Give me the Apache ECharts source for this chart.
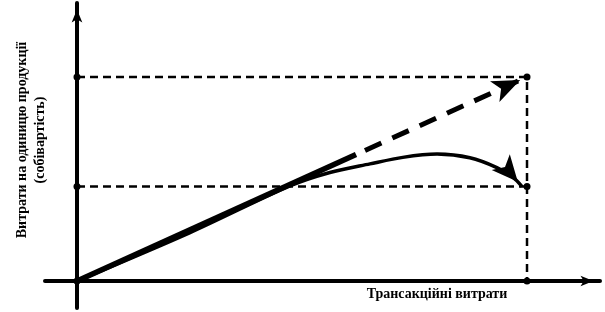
<!DOCTYPE html>
<html><head><meta charset="utf-8">
<script src="https://cdn.jsdelivr.net/npm/echarts@6/dist/echarts.min.js"></script>
<style>html,body{margin:0;padding:0;background:#fff}#c{width:605px;height:312px}</style>
</head><body><div id="c"></div>
<script>
// Conceptual chart: x = transaction costs, y = cost per unit (relative units)
const xLabel = 'Трансакційні витрати';
const yLabel = 'Витрати на одиницю продукції\n(собівартість)';
const highLevel = 100;
const lowLevel = 46.3;
const xEnd = 100;
const straightSolid = [[0, 0], [62, 62]];
const straightDashed = [[64, 64], [100, 100]];
const curve = [[0, 0], [25, 23.6], [47.3, 46.6], [56.2, 53.2], [65.1, 57.4], [72.4, 60.6], [80, 62.2], [87.3, 60.4], [93.3, 55.6], [96.9, 50.8], [98.9, 46.3]];
const guideUpper = [[0, highLevel], [xEnd, highLevel], [xEnd, 0]];
const guideLower = [[0, lowLevel], [xEnd, lowLevel]];
const dots = [[0, 0], [0, highLevel], [0, lowLevel], [xEnd, highLevel], [xEnd, lowLevel], [xEnd, 0]];

const font = "'Liberation Serif','Times New Roman',serif";
const chart = echarts.init(document.getElementById('c'), null, {renderer: 'canvas'});
const axisCommon = {
  type: 'value',
  axisLine: {show: true, onZero: true, symbol: ['none', 'arrow'], symbolSize: [8, 13], symbolOffset: [0, -6.5],
    lineStyle: {color: '#000', width: 4}},
  axisTick: {show: false}, axisLabel: {show: false}, splitLine: {show: false}
};
chart.setOption({
  animation: false,
  backgroundColor: '#fff',
  grid: {left: 45, right: 5, top: 3, bottom: 4, outerBoundsMode: 'none', containLabel: false},
  xAxis: Object.assign({}, axisCommon, {min: -7.11, max: 116.22}),
  yAxis: Object.assign({}, axisCommon, {min: -13.24, max: 136.27}),
  graphic: [
    {type: 'text', x: 437, y: 294, style: {text: xLabel, font: 'bold 14px ' + font, fill: '#000', align: 'center', verticalAlign: 'middle'}},
    {type: 'text', x: 31, y: 140, rotation: Math.PI / 2, style: {text: yLabel, font: 'bold 14px ' + font, lineHeight: 18, fill: '#000', align: 'center', verticalAlign: 'middle'}}
  ],
  series: [
    {type: 'line', data: guideUpper, symbol: 'none', lineStyle: {color: '#000', width: 2.5, type: [8, 5]}, z: 2},
    {type: 'line', data: guideLower, symbol: 'none', lineStyle: {color: '#000', width: 2.5, type: [8, 5]}, z: 2},
    {type: 'line', data: straightSolid, symbol: 'none', lineStyle: {color: '#000', width: 5.5}, z: 3},
    {type: 'line', data: straightDashed, symbol: 'none', lineStyle: {color: '#000', width: 5, type: [18, 12]}, z: 3},
    {type: 'line', data: curve, symbol: 'none', smooth: 0.3, lineStyle: {color: '#000', width: 3.5}, z: 3},
    {type: 'scatter', z: 4, itemStyle: {color: '#000', opacity: 1},
      data: [
        {value: straightDashed[1], symbol: 'arrow', symbolSize: [17, 28], symbolRotate: -65.6, symbolOffset: [-6.8, 3.1]},
        {value: curve[curve.length - 1], symbol: 'arrow', symbolSize: [18, 26], symbolRotate: -139, symbolOffset: [-4.26, -4.9]}
      ]},
    {type: 'scatter', z: 5, data: dots, symbol: 'circle', symbolSize: 7, itemStyle: {color: '#000', opacity: 1}}
  ]
});
</script></body></html>
